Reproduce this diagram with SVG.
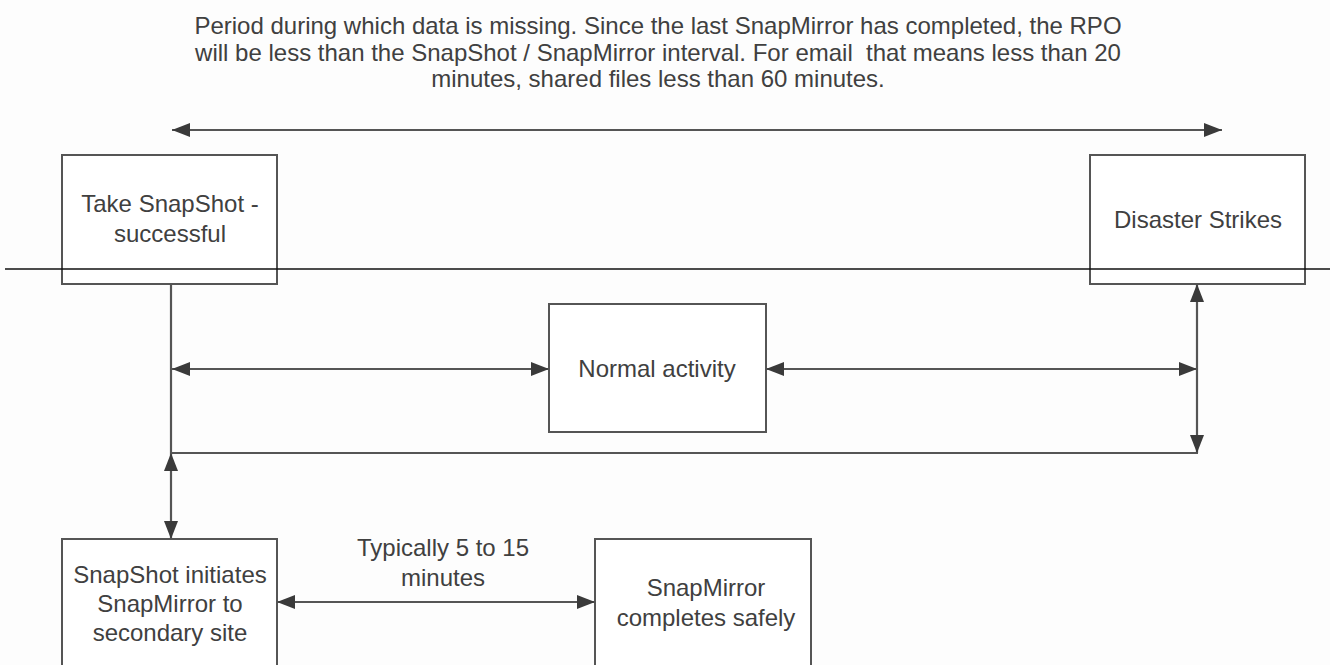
<svg xmlns="http://www.w3.org/2000/svg" width="1330" height="665" viewBox="0 0 1330 665">
<defs>
<marker id="ah" viewBox="0 0 18 14" refX="18" refY="7" markerWidth="18" markerHeight="14" markerUnits="userSpaceOnUse" orient="auto-start-reverse">
<path d="M0,0 L18,7 L0,14 z" fill="#3a3a3a"/>
</marker>
<style>
.box{fill:#fff;stroke:#555;stroke-width:2}
.t{font-family:"Liberation Sans",Arial,sans-serif;font-size:24px;fill:#404040;text-anchor:middle}
.c{stroke:#555;stroke-width:2.2;fill:none}
.a{stroke:#555;stroke-width:2.2;fill:none;marker-start:url(#ah);marker-end:url(#ah)}
</style>
</defs>
<rect width="1330" height="665" fill="#fdfdfd"/>
<g id="note">
<text class="t" x="658" y="34">Period during which data is missing. Since the last SnapMirror has completed, the RPO</text>
<text class="t" x="658" y="61" xml:space="preserve">will be less than the SnapShot / SnapMirror interval. For email  that means less than 20</text>
<text class="t" x="658" y="87">minutes, shared files less than 60 minutes.</text>
</g>
<g id="node-take-snapshot">
<rect class="box" x="62" y="155" width="215" height="129"/>
<text class="t" x="170" y="212">Take SnapShot -</text>
<text class="t" x="170" y="242">successful</text>
</g>
<g id="node-disaster">
<rect class="box" x="1090" y="155" width="215" height="129"/>
<text class="t" x="1198" y="228">Disaster Strikes</text>
</g>
<g id="node-normal">
<rect class="box" x="549" y="304" width="217" height="128"/>
<text class="t" x="657" y="377">Normal activity</text>
</g>
<g id="node-initiates">
<rect class="box" x="62" y="539" width="215" height="140"/>
<text class="t" x="170" y="583">SnapShot initiates</text>
<text class="t" x="170" y="612">SnapMirror to</text>
<text class="t" x="170" y="641">secondary site</text>
</g>
<g id="node-completes">
<rect class="box" x="595" y="539" width="216" height="140"/>
<text class="t" x="706" y="596">SnapMirror</text>
<text class="t" x="706" y="626">completes safely</text>
</g>
<g id="connectors">
<line x1="5" y1="269" x2="1330" y2="269" stroke="#111" stroke-width="1.5"/>
<line class="a" x1="172" y1="130" x2="1222" y2="130"/>
<line class="c" x1="171" y1="284" x2="171" y2="453"/>
<line class="c" x1="170" y1="453" x2="1198" y2="453"/>
<line class="a" x1="172" y1="369" x2="549" y2="369"/>
<line class="a" x1="766" y1="369" x2="1197" y2="369"/>
<line class="a" x1="1197" y1="284" x2="1197" y2="453"/>
<line class="a" x1="171" y1="453" x2="171" y2="539"/>
<line class="a" x1="277" y1="602" x2="595" y2="602"/>
<text class="t" x="443" y="556">Typically 5 to 15</text>
<text class="t" x="443" y="586">minutes</text>
</g>
</svg>
